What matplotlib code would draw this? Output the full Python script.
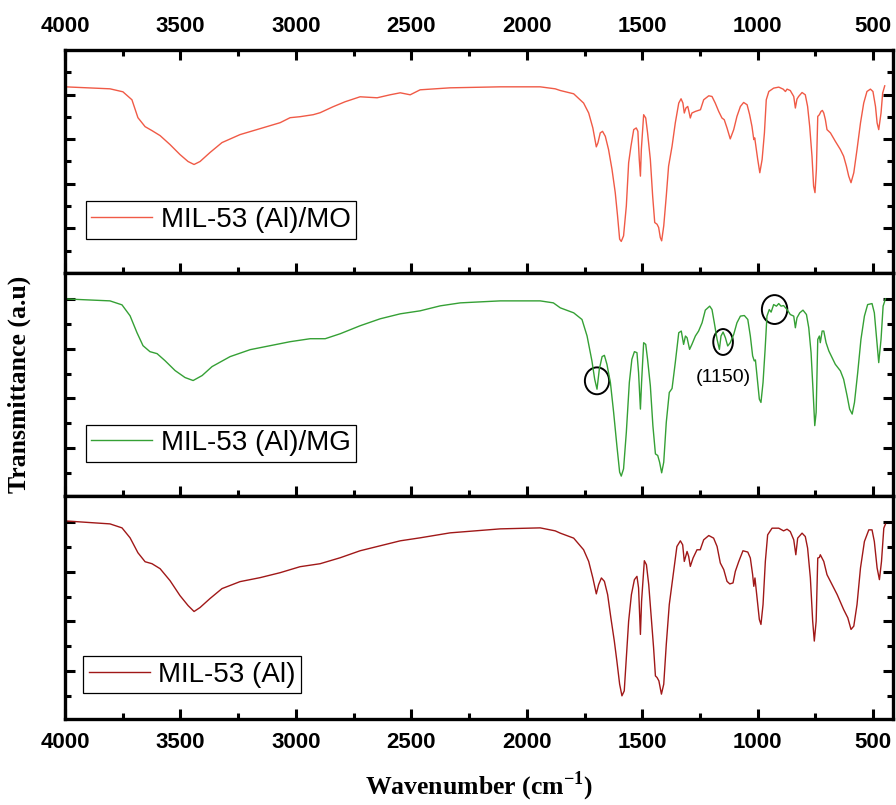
import numpy as np
import matplotlib
matplotlib.use("Agg")
import matplotlib.pyplot as plt
from matplotlib.patches import Ellipse

# Espectros FTIR (numero de onda en cm-1, transmitancia en a.u.)
wn_mo = [4000, 3805, 3749, 3710, 3684, 3653, 3623, 3588, 3545, 3502, 3467, 3441, 3415, 3372, 3320,
         3242, 3155, 3068, 3025, 2982, 2925, 2895, 2839, 2787, 2722, 2648, 2592, 2548, 2505, 2462,
         2332, 2115, 1942, 1877,
         1855, 1797, 1754, 1732, 1714, 1699, 1692, 1682, 1672, 1660, 1646, 1631, 1617, 1607, 1598,
         1591, 1581, 1569, 1559, 1549, 1537, 1526, 1519, 1513, 1508, 1504, 1494, 1485, 1477, 1465,
         1455, 1446, 1436, 1429, 1422, 1416, 1407, 1396, 1386, 1371, 1357, 1342, 1332, 1324, 1318,
         1311, 1303, 1298, 1292, 1285, 1270, 1248, 1234, 1212, 1198, 1184, 1169, 1155, 1145, 1133,
         1119, 1104, 1090, 1075, 1061, 1046, 1035, 1025, 1017, 1013, 1009, 1000, 991, 981, 971,
         963, 952, 931, 909, 890, 880, 873, 859, 844, 837, 830, 823, 808, 794, 784,
         775, 765, 758, 752, 746, 740, 733, 726, 720, 714, 707, 700, 685, 664, 642,
         628, 616, 606, 596, 584, 570, 555, 541, 527, 512, 501, 490, 483, 476, 466,
         459, 450]
t_mo = [187, 185, 182, 174, 156, 147, 143, 138, 129, 119, 112, 109, 112, 121, 131,
        139, 145, 151, 156, 157, 159, 161, 167, 172, 177, 176, 179, 181, 179, 184,
        186, 187, 187, 185,
        183.3, 180, 170.7, 160.7, 145.7, 126.7, 130.7, 140.7, 142.3, 137.3, 124, 104, 80.7, 57.3, 34,
        31.7, 37.3, 67.3, 110.7, 127.3, 144, 145.7, 142.3, 114, 97.3, 124, 159, 155.7, 140.7, 114,
        77.3, 50.7, 49, 45.7, 35.7, 32.3, 47.3, 77.3, 107.3, 127.3, 150.7, 170.7, 175, 170.7, 160.7,
        165.7, 167.3, 162.3, 155.7, 160.7, 162.3, 164, 174, 178, 177.3, 170.7, 162.3, 155.7, 154, 145.7,
        134.7, 144, 157.3, 167.3, 171.3, 169, 159, 147.3, 134, 135.7, 129, 114, 100.7, 114, 140.7,
        174, 182.3, 185.7, 186.7, 184.7, 182.3, 184.7, 183.3, 177.3, 165.7, 174.7, 177.3, 181.3, 179, 167.3,
        147.3, 117.3, 87.3, 80.7, 104, 157.3, 159, 162.3, 163.3, 160.7, 154, 144, 140.7, 132.3, 124,
        117.3, 107.3, 97.3, 90.7, 100.7, 124, 150.7, 170.7, 182.3, 184.7, 182.3, 167.3, 150.7, 144, 160.7,
        180.7, 188]

wn_mg = [4000, 3805, 3753, 3718, 3688, 3662, 3632, 3601, 3567, 3523, 3480, 3445, 3406, 3363, 3285,
         3198, 3112, 3025, 2938, 2873, 2808, 2722, 2635, 2548, 2462, 2375, 2288, 2115, 1942, 1885,
         1855, 1797, 1761, 1739, 1718, 1706, 1696, 1686, 1674, 1664, 1653, 1638, 1624, 1610, 1598,
         1591, 1581, 1569, 1556, 1545, 1534, 1523, 1516, 1508, 1503, 1494, 1485, 1477, 1465, 1454,
         1443, 1433, 1425, 1416, 1407, 1396, 1383, 1371, 1357, 1342, 1331, 1321, 1313, 1306, 1295,
         1285, 1270, 1256, 1241, 1227, 1208, 1198, 1188, 1176, 1166, 1159, 1150, 1140, 1130, 1119,
         1104, 1090, 1075, 1058, 1043, 1032, 1022, 1015, 1010, 1003, 993, 986, 977, 968, 960,
         950, 942, 931, 919, 909, 899, 888, 873, 859, 844, 837, 830, 818, 804, 789,
         779, 769, 760, 753, 747, 740, 733, 729, 721, 714, 704, 692, 678, 664, 642,
         628, 613, 602, 591, 581, 567, 553, 538, 524, 505, 495, 486, 476, 466, 457,
         447]
t_mg = [198, 196, 192, 181, 164, 151, 145, 143, 136, 126, 119, 116, 121, 130, 140,
        147, 151, 155, 158, 158, 163, 171, 178, 183, 186, 191, 194, 196, 196, 194,
        189, 184, 177.3, 160.7, 135.7, 117.3, 107.3, 127.3, 140, 141.3, 132.3, 114, 84, 50.7, 24,
        20, 27.3, 64, 114, 137.3, 145, 144, 124, 87.3, 114, 154, 152.3, 137.3, 110.7, 70.7,
        42.3, 40.7, 34, 23.3, 34, 74, 104, 108, 134, 164, 165.7, 152.3, 160.7, 159, 147.3,
        152.3, 160.7, 165.7, 174, 186.7, 190.7, 187.3, 174, 157.3, 147.3, 160.7, 164.7, 159, 150.7, 154,
        162.3, 174, 180.7, 181.3, 177.3, 160.7, 140.7, 135.7, 136.7, 120.7, 97.3, 94, 114, 147.3, 180.7,
        187.3, 184.7, 192.3, 190.7, 193.3, 190.7, 191.3, 187.3, 182.3, 180.7, 169, 179, 184, 186.7, 182.3,
        169, 144, 104, 70.7, 84, 157.3, 160.7, 154, 165.7, 165.7, 154, 145.7, 139, 132.3, 125.7,
        117.3, 100.7, 87.3, 82.3, 94, 124, 157.3, 180.7, 192.3, 193.3, 184, 160.7, 134, 157.3, 190.7,
        198]

wn_al = [4000, 3805, 3753, 3718, 3684, 3653, 3623, 3588, 3545, 3502, 3467, 3441, 3415, 3372, 3320,
         3242, 3155, 3068, 2982, 2895, 2808, 2722, 2635, 2548, 2462, 2332, 2115, 1942, 1877,
         1855, 1797, 1754, 1732, 1714, 1699, 1689, 1677, 1664, 1650, 1636, 1621, 1610, 1598, 1588,
         1578, 1569, 1559, 1547, 1534, 1523, 1516, 1508, 1503, 1491, 1482, 1472, 1462, 1451, 1443,
         1436, 1428, 1417, 1407, 1396, 1383, 1364, 1350, 1335, 1325, 1318, 1306, 1299, 1292, 1280,
         1263, 1249, 1234, 1212, 1191, 1176, 1162, 1147, 1133, 1121, 1107, 1097, 1082, 1064, 1043,
         1032, 1022, 1017, 1012, 1003, 993, 986, 977, 967, 957, 938, 909, 888, 873, 859,
         844, 835, 827, 808, 794, 784, 772, 762, 755, 747, 740, 733, 729, 714, 700,
         678, 656, 628, 610, 596, 584, 570, 555, 538, 519, 505, 495, 483, 473, 464,
         454, 447]
t_al = [199, 196, 192, 182, 167, 158, 156, 151, 139, 124, 114, 108, 112, 121, 131,
        138, 142, 147, 153, 156, 162, 169, 174, 179, 182, 187, 191, 192, 189,
        186.7, 181.7, 170, 158.3, 141.7, 125.7, 135, 141.7, 138.3, 125, 101.7, 78.3, 58.3, 35, 23.3,
        28.3, 61.7, 98.3, 125, 140, 143.3, 131.7, 85, 118.3, 159, 155, 135, 105, 71.7, 43.3,
        41.7, 38.3, 25, 35, 75, 115, 148.3, 173.3, 179, 175, 158.3, 168.3, 163.3, 153.3, 161.7,
        170, 170, 180, 184.3, 181.7, 173.3, 156.7, 150, 138.3, 135.7, 136.7, 148.3, 158.3, 169, 167.7,
        161.7, 145, 133.3, 141.7, 121.7, 100, 95, 115, 158.3, 185, 191.7, 191.7, 189, 190.7, 188.3,
        180, 165, 181.7, 186.7, 183.3, 171.7, 141.7, 98.3, 78.3, 98.3, 161.7, 162.3, 165, 158.3, 145,
        135, 125, 110, 101.7, 90, 93.3, 115, 151.7, 178.3, 190, 190, 178.3, 151.7, 140, 158.3,
        191.7, 195.7]

etiquetas = ["MIL-53 (Al)/MO", "MIL-53 (Al)/MG", "MIL-53 (Al)"]
colores = ["#f05a46", "#35a035", "#a01818"]

# Bandas marcadas en el espectro MG (centro en cm-1, transmitancia)
circ_wn = [1696, 1150, 927]
circ_t = [115.7, 154.7, 187.3]

plt.rcParams['font.family'] = ['Liberation Sans', 'DejaVu Sans']
plt.rcParams['mathtext.fontset'] = 'custom'
plt.rcParams['mathtext.rm'] = 'Liberation Serif'
plt.rcParams['mathtext.bf'] = 'Liberation Serif:bold'

fig, axs = plt.subplots(3, 1, figsize=(8.96, 8.05), dpi=100, sharex=True)
fig.subplots_adjust(left=0.0725, right=0.9967, top=0.9379, bottom=0.1068, hspace=0)

datos = [(wn_mo, t_mo), (wn_mg, t_mg), (wn_al, t_al)]
ley_pos = [(0.025, 0.321), (0.025, 0.32), (0.022, 0.2825)]

for i, ax in enumerate(axs):
    ax.plot(datos[i][0], datos[i][1], color=colores[i], lw=1.0, label=etiquetas[i])
    ax.set_xlim(4000, 414)
    ax.set_ylim(0, 224)
    for s in ax.spines.values():
        s.set_linewidth(2.4)
    ax.set_xticks(np.arange(4000, 499, -500))
    ax.set_xticks(np.arange(3750, 499, -500), minor=True)
    if i == 0:
        ax.set_yticks([44.8, 89.6, 134.4, 179.2])
        ax.set_yticks([22.4, 67.2, 112, 156.8, 201.6], minor=True)
    else:
        ax.set_yticks([48, 98, 148, 198])
        ax.set_yticks([23, 73, 123, 173], minor=True)
    ax.tick_params(axis='both', which='both', direction='in', width=2.2)
    ax.tick_params(axis='both', which='major', length=7.5)
    ax.tick_params(axis='both', which='minor', length=4.5)
    ax.tick_params(axis='y', which='both', left=True, right=True, labelleft=False)
    ax.tick_params(axis='x', which='both', top=(i == 0), bottom=True,
                   labeltop=(i == 0), labelbottom=(i == 2), pad=9)
    for lab in ax.get_xticklabels():
        lab.set_fontweight('bold')
        lab.set_fontsize(16)
    leg = ax.legend(loc='upper left', bbox_to_anchor=ley_pos[i], borderaxespad=0,
                    fontsize=20, fancybox=False, framealpha=1, edgecolor='black',
                    borderpad=0.2, handletextpad=0.3, handlelength=2.2)
    leg.get_frame().set_linewidth(0.9)

ax = axs[1]
anchos = [105, 85, 110]
altos = [27, 26, 29]
for k in range(len(circ_wn)):
    ax.add_patch(Ellipse((circ_wn[k], circ_t[k]), anchos[k], altos[k], fill=False,
                         edgecolor='black', lw=1.4))
ax.text(1148, 119, "(1150)", fontsize=14, ha='center', va='center')

fig.text(0.022, 0.522, "Transmittance (a.u)", rotation=90, ha='center', va='center',
         family='Liberation Serif', fontweight='bold', fontsize=18.5)
fig.text(0.535, 1 - 786 / 805, r"Wavenumber (cm$^{\mathbf{-1}}$)", ha='center', va='center',
         family='Liberation Serif', fontweight='bold', fontsize=18.5)

plt.savefig("out.png", dpi=100)
